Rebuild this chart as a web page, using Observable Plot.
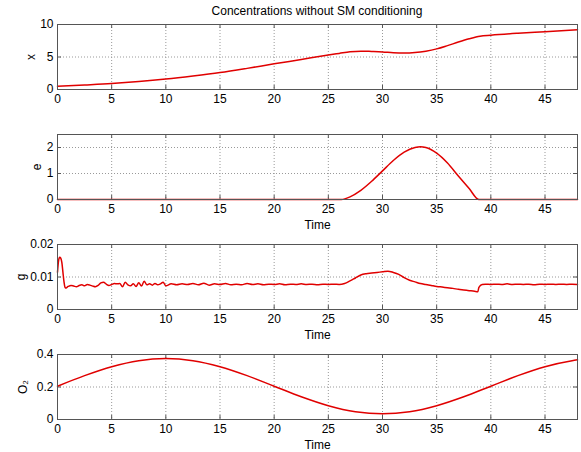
<!DOCTYPE html>
<html><head><meta charset="utf-8">
<script src="https://cdn.jsdelivr.net/npm/d3@7"></script>
<script src="https://cdn.jsdelivr.net/npm/@observablehq/plot@0.6"></script>
<style>
body{margin:0;background:#fff;}
#wrap{position:relative;width:581px;height:452px;overflow:hidden;font-family:"Liberation Sans",Arial,sans-serif;background:#fff;}
#title{position:absolute;top:4px;left:57px;width:520px;text-align:center;font-size:12px;line-height:14px;color:#000;z-index:2;}
.panel{position:absolute;left:0;}
</style></head><body>
<div id="wrap"><div id="title">Concentrations without SM conditioning</div></div>
<script>
const xTicks = [0,5,10,15,20,25,30,35,40,45];

// x concentration
const xTime  = [0,2.5,5,7.5,10,12.5,15,17.5,20,22.5,25,26,27,28,29,30,31,32,33,34,35,36,37,38,39,40,42.5,45,48];
const xValue = [0.5,0.7,0.92,1.22,1.6,2.07,2.6,3.25,3.95,4.62,5.3,5.55,5.8,5.9,5.85,5.78,5.65,5.6,5.68,5.9,6.25,6.75,7.3,7.8,8.2,8.35,8.65,8.9,9.2];

// e concentration
const eTime  = [0,26.2,27,28,29,30,31,32,33,33.5,34,35,36,37,38,38.9,48];
const eValue = [0,0,0.1,0.35,0.7,1.1,1.5,1.82,2.0,2.03,2.0,1.78,1.4,0.9,0.42,0,0];

// g concentration
const gTime = [0,0.1,0.2,0.3,0.4,0.5,0.6,0.7,0.8,0.9,1.0,
  1.25,1.5,1.75,2,2.25,2.5,2.75,3,3.25,3.5,3.75,4,4.25,4.5,4.75,5,5.25,5.5,5.75,6,6.25,6.5,6.75,7,7.25,7.5,7.75,8,8.25,8.5,8.75,9,9.25,9.5,9.75,10,
  10.5,11,11.5,12,12.5,13,13.5,14,14.5,15,15.5,16,16.5,17,17.5,18,18.5,19,19.5,20,20.5,21,21.5,22,22.5,23,23.5,24,24.5,25,25.5,26,
  26.5,27,27.5,28,28.5,29,29.5,30,30.5,31,31.5,32,32.5,33,33.5,34,34.5,35,35.5,36,36.5,37,37.5,38,38.5,38.8,38.9,39.2,39.5,
  40,40.5,41,41.5,42,42.5,43,43.5,44,44.5,45,45.5,46,46.5,47,47.5,48];
const gValue = [0.0115,0.0150,0.0161,0.0158,0.0145,0.0115,0.0085,0.0068,0.0066,0.0069,0.0071,
  0.0074,0.0072,0.0070,0.0074,0.0076,0.0073,0.0077,0.0075,0.0072,0.0070,0.0074,0.0082,0.0084,0.0078,0.0074,0.0077,0.0080,0.0079,0.0080,0.0070,0.0084,0.0076,0.0073,0.0079,0.0071,0.0082,0.0072,0.0087,0.0076,0.0079,0.0075,0.0080,0.0076,0.0079,0.0084,0.0073,
  0.0079,0.0076,0.0079,0.0077,0.0080,0.0076,0.0081,0.0075,0.0079,0.0077,0.0080,0.0076,0.0078,0.0076,0.0080,0.0077,0.0079,0.0076,0.0078,0.0077,0.0079,0.0076,0.0078,0.0077,0.0079,0.0077,0.0078,0.0076,0.0078,0.0077,0.0078,0.0077,
  0.0080,0.0088,0.0097,0.0106,0.0110,0.0112,0.0114,0.0116,0.0118,0.0114,0.0108,0.0098,0.0090,0.0085,0.0080,0.0077,0.0074,0.0071,0.0069,0.0067,0.0065,0.0062,0.0060,0.0058,0.0056,0.0055,0.0068,0.0077,0.0078,
  0.0077,0.0078,0.0077,0.0079,0.0077,0.0078,0.0077,0.0078,0.0076,0.0078,0.0077,0.0078,0.0077,0.0078,0.0077,0.0078,0.0077];

// O2 concentration
const oTime  = [0,2.5,5,7.5,10,12.5,15,17.5,20,22.5,25,27.5,30,32.5,35,37.5,40,42.5,45,47.5,48];
const oValue = [0.205,0.27,0.325,0.362,0.375,0.362,0.325,0.27,0.205,0.14,0.085,0.048,0.035,0.048,0.085,0.14,0.205,0.27,0.325,0.362,0.367];

const panels = [
  {time: xTime, value: xValue, yDomain: [0,10],   yTicks: [0,5,10],        yLabel: "x",  labelOffset: 31, showTime: false, top: 14},
  {time: eTime, value: eValue, yDomain: [0,2.5],  yTicks: [0,1,2],         yLabel: "e",  labelOffset: 25, showTime: true,  top: 124},
  {time: gTime, value: gValue, yDomain: [0,0.02], yTicks: [0,0.01,0.02],   yLabel: "g",  labelOffset: 41, showTime: true,  top: 234},
  {time: oTime, value: oValue, yDomain: [0,0.4],  yTicks: [0,0.2,0.4],     yLabel: "O₂", labelOffset: 39, showTime: true,  top: 344}
];

const wrap = document.getElementById("wrap");
const FONT = '"Liberation Sans", Arial, sans-serif';
const innerH = 65, innerW = 520, mt = 10, mb = 35;
for (const p of panels) {
  const data = p.time.map((t, i) => ({t, v: p.value[i]}));
  const chart = Plot.plot({
    width: 581, height: mt + innerH + mb,
    marginTop: mt, marginBottom: mb, marginLeft: 57, marginRight: 4,
    style: {fontFamily: FONT, fontSize: "12px", background: "#fff", color: "#000"},
    x: {domain: [0, 48], ticks: xTicks, tickSize: 0, tickPadding: 5, tickFormat: d => String(d),
        label: p.showTime ? "Time" : null, labelAnchor: "center", labelOffset: 29, labelArrow: "none"},
    y: {domain: p.yDomain, ticks: p.yTicks, tickSize: 0, tickPadding: 4, tickFormat: d => String(d),
        label: p.yLabel, labelAnchor: "center", labelOffset: p.labelOffset, labelArrow: "none"},
    marks: [
      Plot.gridX(xTicks, {stroke: "#999", strokeOpacity: 1, strokeDasharray: "1,2"}),
      Plot.gridY(p.yTicks, {stroke: "#999", strokeOpacity: 1, strokeDasharray: "1,2"}),
      Plot.tickX(xTicks, {x: d => d, insetTop: innerH - 4, stroke: "#555"}),
      Plot.tickX(xTicks, {x: d => d, insetBottom: innerH - 4, stroke: "#555"}),
      Plot.tickY(p.yTicks, {y: d => d, insetRight: innerW - 4, stroke: "#555"}),
      Plot.tickY(p.yTicks, {y: d => d, insetLeft: innerW - 4, stroke: "#555"}),
      Plot.line(data, {x: "t", y: "v", stroke: "#e00000", strokeWidth: 1.5, curve: "monotone-x"}),
      Plot.frame({stroke: "#555"})
    ]
  });
  chart.classList.add("panel");
  chart.style.top = p.top + "px";
  wrap.appendChild(chart);
}
</script>
</body></html>
